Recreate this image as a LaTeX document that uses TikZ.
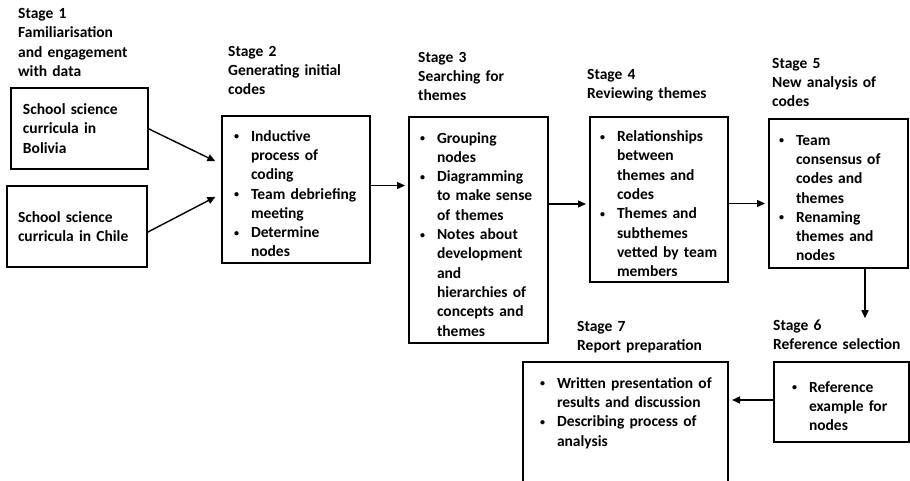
\documentclass[tikz,border=0pt]{standalone}
\usepackage{fontspec}
\setmainfont{Carlito}
\usetikzlibrary{arrows.meta}
\newcommand{\bitem}{\par\hangindent=18pt\hangafter=1\makebox[18pt][l]{\hspace*{1pt}{\fontsize{10}{10}\selectfont\raisebox{1.5pt}{\textbullet}}}}
\newcommand{\nl}{\newline}
\tikzset{
  txt/.style={font=\fontsize{15.5}{19.3}\selectfont\bfseries},
  stage/.style={txt, anchor=base west, inner sep=0pt, align=left, text width=170},
  pbox/.style={txt, draw, line width=2.4pt, anchor=north west, inner sep=0pt, outer sep=0pt, align=left},
  arr/.style={line width=1.4pt, -{Triangle[length=8pt,width=7pt]}, shorten >=4pt}
}
\begin{document}
\begin{tikzpicture}[x=1pt,y=-1pt]
\clip (0,0) rectangle (910,480);
\foreach \n/\x/\y/\lbl in {1/18/18.5/{Stage 1\\Familiarisation\\and engagement\\with data},
  2/228/56/{Stage 2\\Generating initial\\codes}, 3/418/62/{Stage 3\\Searching for\\themes},
  4/587/79/{Stage 4\\Reviewing themes}, 5/772/68/{Stage 5\\New analysis of\\codes},
  6/773/330/{Stage 6\\Reference selection}, 7/577/331/{Stage 7\\Report preparation}}
  \node[stage] (t\n) at (\x,\y) {\lbl};
\node[pbox, text width=137, minimum height=81] (bol) at (11,88) {\leftskip12pt School science\nl curricula in\nl Bolivia\par};
\node[pbox, text width=140, minimum height=81] (chi) at (7,186) {\leftskip11pt School science\nl curricula in Chile\par};
\node[pbox, text width=148, minimum height=147] (s2) at (222,116) {\leftskip11pt
  \bitem Inductive\nl process of\nl coding\bitem Team debriefing\nl meeting\bitem Determine\nl nodes\par};
\node[pbox, text width=139, minimum height=226] (s3) at (409,117) {\leftskip10pt
  \bitem Grouping\nl nodes\bitem Diagramming\nl to make sense\nl of themes
  \bitem Notes about\nl development\nl and\nl hierarchies of\nl concepts and\nl themes\par};
\node[pbox, text width=138, minimum height=165] (s4) at (590,117) {\leftskip9pt
  \bitem Relationships\nl between\nl themes and\nl codes\bitem Themes and\nl subthemes\nl vetted by team\nl members\par};
\node[pbox, text width=139, minimum height=149] (s5) at (769,119) {\leftskip9pt
  \bitem Team\nl consensus of\nl codes and\nl themes\bitem Renaming\nl themes and\nl nodes\par};
\node[pbox, text width=135, minimum height=80] (s6) at (774,362) {\leftskip17pt
  \bitem Reference\nl example for\nl nodes\par};
\node[pbox, text width=205, text height=7pt, text depth=133pt] (s7) at (523,362) {\leftskip16pt
  \bitem Written presentation of\nl results and discussion\bitem Describing process of\nl analysis\par};
\draw[arr] (bol.east) -- ([xshift=-3pt,yshift=26.5pt]s2.west);
\draw[arr] ([yshift=-6pt]chi.east) -- ([xshift=-3pt,yshift=-5.5pt]s2.west);
\draw[arr] ([yshift=4pt]s2.east) -- ([yshift=4pt]s2.east -| s3.west);
\draw[arr] ([yshift=-4.5pt]s4.west -| s3.east) -- ([yshift=-4.5pt]s4.west);
\draw[arr] ([yshift=-4pt]s4.east) -- ([yshift=-4pt]s4.east -| s5.west);
\draw[arr, shorten >=1pt] ([xshift=26.5pt]s5.south) -- ([xshift=26.5pt]s5.south |- t6.north);
\draw[arr] ([yshift=2pt]s6.west) -- ([yshift=2pt]s6.west -| s7.east);
\end{tikzpicture}
\end{document}
